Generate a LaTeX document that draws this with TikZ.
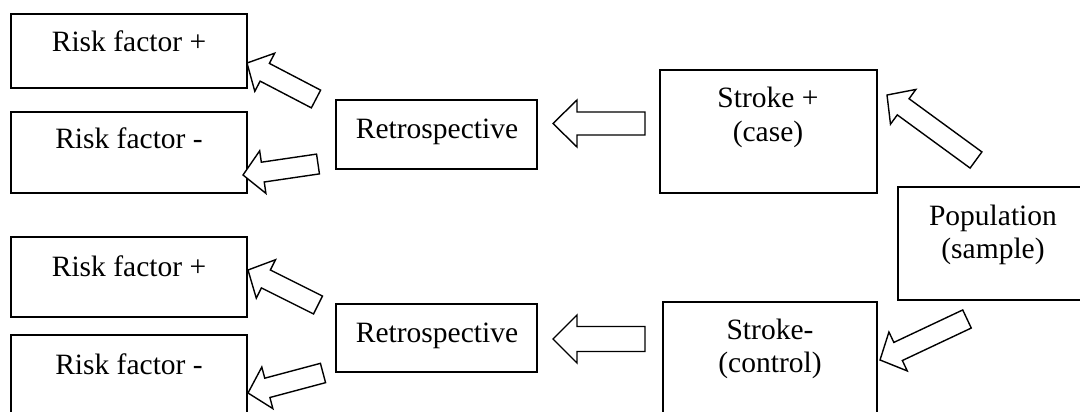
\documentclass[tikz,border=0pt]{standalone}
\usepackage{fontspec}
\setmainfont{Liberation Serif}
\usetikzlibrary{calc}
\tikzset{
  box/.style={draw=black, line width=1.4pt, inner sep=0pt, outer sep=0pt, anchor=north west, fill=white},
  lbl/.style={anchor=base, inner sep=0pt, font=\fontsize{29.5}{33}\selectfont},
  blk/.style={draw=black, line width=1.4pt, fill=white, line join=miter},
}
% block arrow: #1 tail coord, #2 tip coord, #3 shaft width, #4 head width, #5 head length
\newcommand\blockarrow[5]{%
  \draw[blk] let \p1=(#1), \p2=(#2), \n1={atan2(\y2-\y1,\x2-\x1)}, \n2={veclen(\x2-\x1,\y2-\y1)} in
    [shift={(\p1)}, rotate=\n1]
    (0pt,{-#3/2*1pt}) -- ({\n2-#5*1pt},{-#3/2*1pt}) -- ({\n2-#5*1pt},{-#4/2*1pt}) -- (\n2,0pt)
    -- ({\n2-#5*1pt},{#4/2*1pt}) -- ({\n2-#5*1pt},{#3/2*1pt}) -- (0pt,{#3/2*1pt}) -- cycle;}
\begin{document}
\begin{tikzpicture}[x=1pt,y=-1pt]
\useasboundingbox (0,0) rectangle (1080,412);
\clip (0,0) rectangle (1080,412);
\fill[white] (0,0) rectangle (1080,412);
% boxes
\node[box, minimum width=236pt, minimum height=74pt] (rfp1) at (11,14) {};
\node[box, minimum width=236pt, minimum height=81pt] (rfm1) at (11,112) {};
\node[box, minimum width=201pt, minimum height=69pt] (ret1) at (336,100) {};
\node[box, minimum width=217pt, minimum height=123pt] (sp) at (660,70) {};
\node[box, minimum width=192pt, minimum height=113pt] (pop) at (898,187) {};
\node[box, minimum width=214pt, minimum height=130pt] (sm) at (663,302) {};
\node[box, minimum width=236pt, minimum height=80pt] (rfp2) at (11,237) {};
\node[box, minimum width=236pt, minimum height=95pt] (rfm2) at (11,335) {};
\node[box, minimum width=201pt, minimum height=68pt] (ret2) at (336,304) {};
% labels
\node[lbl] (t1) at (129,52) {Risk factor +};
\node[lbl] (t2) at (129,148) {Risk factor -};
\node[lbl] (t3) at (437,139) {Retrospective};
\node[lbl] (t4) at (768,108) {Stroke +};
\node[lbl] (t5) at (768,141) {(case)};
\node[lbl] (t6) at (993,225) {Population};
\node[lbl] (t7) at (993,258) {(sample)};
\node[lbl] (t8) at (129,276) {Risk factor +};
\node[lbl] (t9) at (129,374) {Risk factor -};
\node[lbl] (t10) at (437,342) {Retrospective};
\node[lbl] (t11) at (770,339) {Stroke-};
\node[lbl] (t12) at (770,372) {(control)};
% arrow end points
\coordinate (h1s) at (645,123.5); \coordinate (h1e) at (553,123.5);
\coordinate (h2s) at (645,339);   \coordinate (h2e) at (553,339);
\coordinate (d1s) at (316,99);    \coordinate (d1e) at (247,63);
\coordinate (d2s) at (318,164);   \coordinate (d2e) at (243,175);
\coordinate (d3s) at (318,305);   \coordinate (d3e) at (248,270);
\coordinate (d4s) at (323,373);   \coordinate (d4e) at (248,393);
\coordinate (d5s) at (976,160);   \coordinate (d5e) at (887,95);
\coordinate (d6s) at (967,319);   \coordinate (d6e) at (880,360);
% arrows
\blockarrow{h1s}{h1e}{23}{47}{24}
\blockarrow{h2s}{h2e}{25}{48}{24}
\blockarrow{d1s}{d1e}{20}{43}{20}
\blockarrow{d2s}{d2e}{20}{43}{20}
\blockarrow{d3s}{d3e}{20}{43}{20}
\blockarrow{d4s}{d4e}{20}{43}{20}
\blockarrow{d5s}{d5e}{20}{43}{20}
\blockarrow{d6s}{d6e}{20}{43}{20}
\end{tikzpicture}
\end{document}
